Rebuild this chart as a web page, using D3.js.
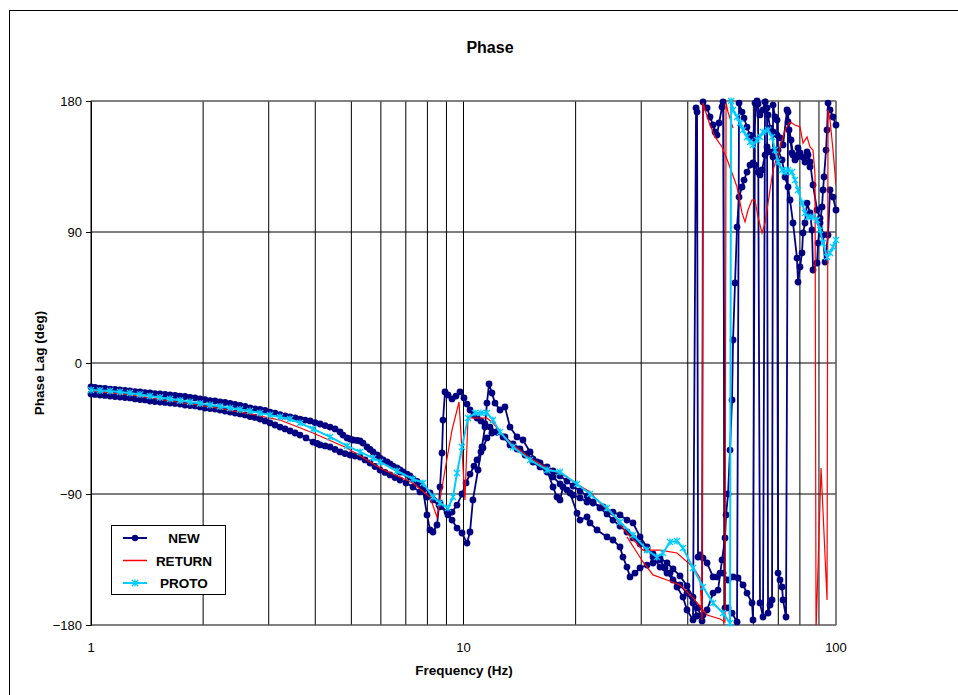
<!DOCTYPE html>
<html>
<head>
<meta charset="utf-8">
<title>Phase</title>
<script src="https://d3js.org/d3.v7.min.js"></script>
<style>
  body { margin: 0; background: #fff; }
  text { font-family: Arial, "Liberation Sans", sans-serif; fill: #000; }
</style>
</head>
<body>
<div id="chart"></div>
<script>

// values: [frequency (Hz), phase lag (deg)]
var newA = [[1.000,-16.5],[1.025,-16.8],[1.057,-17.2],[1.090,-17.5],[1.125,-17.9],[1.160,-18.2],[1.196,-18.5],[1.234,-18.9],
  [1.272,-19.2],[1.313,-19.6],[1.354,-19.9],[1.396,-20.3],[1.440,-20.6],[1.485,-21.0],[1.532,-21.3],[1.580,-21.6],
  [1.630,-22.0],[1.681,-22.3],[1.734,-22.7],[1.788,-23.0],[1.844,-23.7],[1.902,-24.0],[1.962,-24.7],[2.023,-25.1],
  [2.087,-25.8],[2.152,-26.1],[2.220,-26.8],[2.290,-27.1],[2.362,-27.8],[2.436,-28.5],[2.512,-29.2],[2.591,-29.9],
  [2.673,-30.9],[2.756,-31.6],[2.843,-31.9],[2.932,-32.6],[3.024,-33.7],[3.119,-34.4],[3.217,-35.4],[3.318,-36.4],
  [3.422,-37.1],[3.530,-37.8],[3.640,-38.5],[3.755,-39.2],[3.873,-39.8],[3.995,-40.9],[4.120,-41.9],[4.250,-43.0],
  [4.382,-44.0],[4.521,-45.3],[4.662,-47.4],[4.748,-49.5],[4.868,-51.5],[4.959,-52.2],[5.051,-52.9],[5.177,-53.2],
  [5.275,-53.6],[5.373,-55.0],[5.508,-57.7],[5.611,-59.4],[5.716,-61.1],[5.860,-63.2],[5.969,-65.3],[6.081,-66.6],
  [6.233,-68.0],[6.350,-69.4],[6.468,-70.8],[6.630,-72.1],[6.754,-73.5],[6.880,-74.9],[7.052,-76.3],[7.184,-77.6],
  [7.319,-79.7],[7.502,-81.4],[7.642,-83.1],[7.785,-87.3],[7.981,-104.4],
  [8.130,-114.7],[8.282,-116.1],[8.489,-111.3],[8.596,-97.6],[8.649,-85.2],[8.757,-61.8],[8.811,-39.2],[8.920,-19.9],
  [9.087,-22.0],[9.316,-24.7],[9.548,-22.7],[9.786,-19.9],[10.03,-24.0],[10.22,-28.2],[10.41,-32.3],[10.67,-35.7],
  [10.87,-37.8],[11.14,-39.8],[11.42,-41.9],[11.78,-44.0],[12.30,-47.4],[12.92,-50.8],[13.58,-55.6],[14.18,-59.1],
  [14.81,-62.5],[15.37,-66.0],[16.05,-68.7],[16.76,-71.4],[17.39,-74.2],[18.16,-77.6],[18.96,-81.1],[19.68,-84.5],
  [20.55,-87.9],[21.46,-91.4],[22.27,-95.5],[23.25,-99.6],[24.28,-103.7],[25.19,-107.9],[26.31,-112.0],[27.47,-116.1],
  [28.51,-120.2],[29.78,-124.4],[31.10,-127.8],[32.27,-131.2],[33.69,-134.0],[35.18,-137.4],[36.51,-141.5],[38.13,-146.3],
  [39.81,-153.2],[41.32,-160.8],[42.62,-168.3],[43.69,-177.2],[43.96,179.3],[45.06,175.2],[45.90,169.0],[46.77,163.5],
  [47.35,158.7],[47.93,156.6],[48.53,164.9],[49.44,175.9],[49.75,179.3],[50.36,-168.3],[51.31,-168.3],[52.59,-171.8],
  [54.24,-177.9],[54.92,178.6],[55.94,172.4],[56.64,168.3],[57.69,162.1],[58.77,156.6],[59.87,154.6],[61.37,179.3],
  [62.52,170.4],[63.69,173.8],[64.49,179.3],[65.70,170.4],[66.52,161.4],[67.76,158.7],[69.46,156.6],[70.75,154.6],
  [72.08,149.8],[73.88,173.8],[74.34,165.6],[75.73,153.2],[76.67,142.9],[78.58,141.5],[80.06,144.3],[81.56,141.5],
  [83.60,145.0],[85.16,138.1],[86.76,122.3],[88.94,105.1],[90.60,99.6],[92.30,87.9],[93.45,69.4],[95.20,87.9],
  [96.38,118.9],[98.16,114.0],[100,105.1]];

var newB = [[1.000,-21.3],[1.025,-21.6],[1.057,-22.0],[1.090,-22.3],[1.125,-22.7],[1.160,-23.0],[1.196,-23.4],[1.234,-23.7],
  [1.272,-24.0],[1.313,-24.7],[1.354,-25.1],[1.396,-25.4],[1.440,-26.1],[1.485,-26.5],[1.532,-26.8],[1.580,-27.1],
  [1.630,-27.5],[1.681,-27.8],[1.734,-28.2],[1.788,-28.9],[1.844,-29.2],[1.902,-29.5],[1.962,-30.2],[2.023,-30.9],
  [2.087,-31.3],[2.152,-31.6],[2.220,-32.3],[2.290,-33.0],[2.362,-33.7],[2.436,-34.4],[2.512,-35.0],[2.591,-35.7],
  [2.673,-36.8],[2.756,-37.4],[2.843,-38.5],[2.932,-39.8],[3.024,-41.2],[3.119,-42.6],[3.217,-44.0],[3.318,-45.3],
  [3.422,-46.7],[3.530,-48.1],[3.640,-49.5],[3.777,-51.5],[3.945,-54.3],[4.044,-55.3],[4.120,-56.3],[4.250,-57.0],
  [4.382,-57.7],[4.521,-59.4],[4.662,-61.1],[4.807,-62.2],[4.959,-63.2],[5.113,-63.9],[5.275,-64.6],[5.440,-66.6],
  [5.611,-68.7],[5.786,-71.1],[5.969,-73.5],[6.155,-75.2],[6.350,-76.9],[6.548,-78.7],[6.754,-80.4],[7.009,-82.4],
  [7.319,-85.2],[7.642,-88.6],[7.981,-92.1],[8.282,-94.1],[8.649,-98.9],[9.031,-102.4],[9.316,-107.9],[9.607,-113.4],
  [9.908,-116.8],[10.22,-123.7],[10.41,-116.1],[10.60,-94.1],[10.94,-73.5],[11.21,-57.7],[11.42,-44.0],[11.56,-27.5],
  [11.71,-14.4],[11.92,-20.6],[12.15,-27.5],[12.53,-32.3],[12.92,-30.2],[13.33,-44.0],[13.92,-50.8],[14.44,-52.9],
  [15.09,-61.1],[15.75,-68.0],[16.76,-73.5],[17.39,-85.2],[17.82,-92.1],[18.16,-94.1],[18.50,-85.2],[19.32,-89.3],
  [20.17,-103.1],[20.55,-107.9],[21.46,-105.8],[21.86,-109.9],[22.83,-114.7],[24.28,-119.5],[25.19,-121.6],[26.31,-126.4],
  [26.80,-133.3],[27.47,-140.2],[27.99,-147.0],[28.87,-144.3],[29.78,-140.8],[31.10,-138.8],[32.27,-137.4],[33.69,-135.3],
  [34.75,-140.8],[35.84,-144.3],[37.43,-153.9],[38.84,-160.8],[39.81,-169.7],[41.32,-176.5],[42.10,175.2],[42.36,172.4],
  [42.62,-133.3],[43.15,-131.9],[43.96,-134.0],[45.06,-137.4],[46.77,-147.0],[47.93,-147.0],[48.83,-144.3],[49.75,-144.3],
  [51.31,-149.1],[52.92,-147.0],[54.58,-147.7],[56.29,-152.5],[57.69,-158.1],[59.50,-164.9],[59.87,-176.5],[60.61,178.6],
  [61.37,180],[61.75,177.9],[62.52,-164.9],[63.69,-174.5],[64.49,179.3],[65.29,175.2],[65.70,-171.8],[66.52,-166.3],
  [67.34,-162.8],[67.76,177.2],[68.60,169.0],[69.46,166.9],[69.89,-144.3],[70.75,-149.1],[71.63,-153.9],[72.08,-162.8],
  [73.43,-174.5],[74.34,172.4],[74.80,160.1],[76.20,144.3],[77.61,139.5],[79.06,147.7],[81.56,141.5],[82.57,138.1],
  [84.12,142.9],[85.16,134.7]];

var newC = [[6.754,-74.9],[7.184,-78.3],[7.642,-83.8],[8.130,-89.3],[8.649,-96.2],[9.087,-104.4],[9.316,-102.4],[9.607,-97.6],
  [9.908,-90.0],[10.16,-82.4],[10.41,-76.3],[10.67,-70.8],[10.87,-66.6],[11.14,-61.1],[11.28,-58.4],[11.56,-51.5],
  [11.92,-48.1],[12.30,-47.4],[12.77,-50.8],[13.33,-56.3],[13.92,-59.1],[14.63,-63.2],[15.37,-68.0],[16.05,-71.4],
  [16.76,-74.9],[17.39,-78.3],[18.16,-83.1],[18.96,-87.3],[19.68,-90.7],[20.55,-92.7],[21.46,-95.5],[22.27,-96.2],
  [23.69,-98.9],[25.19,-102.4],[26.31,-104.4],[27.47,-107.9],[28.51,-109.9],[29.78,-119.5],[31.10,-126.4],[32.27,-133.3],
  [33.69,-140.2],[35.18,-144.3],[36.51,-149.1],[38.13,-152.5],[39.81,-158.1],[41.32,-164.9],[42.36,-173.8],[43.96,-173.1],
  [45.06,-169.7],[46.77,-158.1],[48.23,-156.0],[49.44,-135.3],[50.36,-120.2],[50.68,-104.4],[51.31,-90.0],[51.94,-59.8],
  [52.59,-25.4],[52.92,15.8],[53.57,55.0],[54.24,93.4],[54.92,114.0],[55.94,120.9],[56.64,125.7],[57.69,131.2],
  [58.77,136.0],[59.87,137.4],[60.61,136.0],[61.75,131.2],[62.52,129.2],[63.30,132.6],[64.49,142.9],[65.29,148.4],
  [66.52,145.0],[67.76,141.5],[69.89,146.3],[71.63,139.5],[72.97,127.8],[74.34,120.9],[75.26,112.0],[76.67,96.2],
  [78.58,72.1],[79.06,55.6],[80.06,66.0],[81.05,75.6],[81.56,89.3],[82.57,96.2],[83.60,109.9],[85.16,103.1],
  [86.22,91.4],[86.76,63.9],[88.94,68.7],[89.49,82.4],[90.60,96.2],[91.73,107.2],[92.30,118.9],[92.87,127.8],
  [94.03,146.3],[94.61,160.1],[95.20,178.6],[96.38,173.8],[98.16,169.0],[100,163.5]];

var returnA = [[1.000,-19.2],[1.272,-22.0],[1.630,-26.1],[2.087,-30.2],[2.673,-35.0],[3.217,-39.2],[3.945,-48.1],[4.868,-58.4],
  [5.969,-72.1],[7.319,-82.4],[8.130,-92.1],[8.489,-105.8],[8.920,-73.5],[9.316,-46.0],[9.726,-26.8],[9.908,-59.8],
  [10.09,-94.1],[10.28,-37.8],[10.74,-37.8],[11.56,-37.8],[12.00,-41.2],[12.53,-47.4],[13.58,-56.3],[15.09,-65.3],
  [16.76,-72.1],[18.50,-76.9],[20.17,-83.1],[21.86,-88.6],[23.25,-96.2],[25.19,-104.4],[27.47,-116.8],[30.33,-128.5],
  [33.69,-128.5],[37.43,-130.5],[41.32,-140.2],[43.15,-147.7],[43.69,-176.5],[43.96,178.6],[44.51,173.8],[45.90,163.5],
  [47.35,155.3],[49.44,148.4],[51.31,138.1],[54.24,120.9],[55.94,103.1],[56.99,96.9],[58.05,105.1],[59.50,112.0],
  [60.61,112.0],[61.75,100.3],[63.30,89.3],[64.49,96.2],[65.70,109.9],[67.76,132.6],[70.75,148.4],[72.97,160.1],
  [75.26,165.6],[77.61,163.5],[80.06,162.1],[81.56,151.1],[83.60,155.3],[85.16,148.4],[86.76,146.3],[87.84,129.2],
  [88.39,-185],[91.17,-72.1],[94.61,-162.8],[95.20,173.8],[96.38,166.9],[98.16,146.3],[100,122.3]];

var returnB = [[27.47,-119.5],[30.33,-136.7],[32.27,-145.6],[35.18,-149.1],[38.13,-152.5],[41.32,-161.4],[45.06,-173.1],
  [48.83,-175.9],[50.36,-177.9],[50.68,178.6],[51.31,172.4],[52.92,161.4]];

var proto = [[1.000,-18.5],[1.057,-18.9],[1.125,-19.2],[1.196,-19.9],[1.272,-20.6],[1.354,-21.6],[1.440,-22.7],[1.532,-23.7],
  [1.630,-24.7],[1.734,-25.8],[1.844,-26.8],[1.962,-27.8],[2.087,-28.9],[2.220,-29.9],[2.362,-30.9],[2.512,-31.9],
  [2.673,-33.0],[2.843,-34.4],[3.024,-35.7],[3.217,-37.1],[3.422,-38.5],[3.640,-41.2],[3.945,-45.3],[4.382,-50.8],
  [4.868,-57.0],[5.275,-61.1],[5.716,-65.3],[5.969,-68.0],[6.630,-74.2],[7.319,-79.7],[7.785,-82.4],[8.282,-92.1],
  [8.649,-96.2],[9.087,-99.6],[9.373,-92.1],[9.607,-75.6],[9.908,-57.7],[10.28,-37.8],[10.74,-34.4],[11.14,-34.4],
  [11.56,-34.4],[12.00,-39.2],[12.53,-47.4],[13.58,-57.7],[15.09,-66.6],[16.76,-73.5],[18.16,-74.9],[20.17,-83.1],
  [21.86,-90.0],[24.28,-99.6],[26.31,-109.2],[28.51,-118.2],[31.10,-128.5],[33.07,-133.3],[34.32,-130.5],[35.84,-123.0],
  [37.43,-122.3],[38.84,-127.1],[41.32,-140.8],[43.96,-153.9],[46.77,-164.9],[49.75,-171.8],[51.94,-178.6],[52.27,180],
  [52.92,173.8],[54.24,169.0],[55.26,164.9],[56.29,160.1],[57.69,155.3],[58.77,151.8],[59.87,149.8],[61.37,153.2],
  [62.52,155.3],[63.69,158.7],[65.70,160.1],[67.34,155.3],[68.60,146.3],[69.89,138.1],[71.63,132.6],[72.97,131.2],
  [74.34,132.6],[76.20,131.2],[77.61,125.7],[79.06,118.9],[81.05,109.9],[82.57,103.1],[84.12,100.3],[86.76,100.3],
  [88.94,98.2],[90.60,91.4],[92.30,82.4],[94.61,72.8],[96.38,75.6],[98.16,79.7],[100,84.5]];

var xTickLabels = [1, 10, 100];
var yTickLabels = [-180, -90, 0, 90, 180];
var xGrid = [1, 2, 3, 4, 5, 6, 7, 8, 9, 10, 20, 30, 40, 50, 60, 70, 80, 90, 100];

var navy = "#000080", red = "#ff0000", cyan = "#00ccff";

var svg = d3.select("#chart")
  .append("svg")
    .attr("width", 958)
    .attr("height", 695);

// chart frame (runs off the right and bottom of the picture)
svg.append("rect")
  .attr("x", 9.5).attr("y", 10.5)
  .attr("width", 980).attr("height", 720)
  .attr("fill", "#fff")
  .attr("stroke", "#000");

var x = d3.scaleLog().domain([1, 100]).range([91, 836]);
var y = d3.scaleLinear().domain([-180, 180]).range([625, 101]);

svg.append("clipPath").attr("id", "plotclip")
  .append("rect")
    .attr("x", 91).attr("y", 101)
    .attr("width", 745).attr("height", 524);

// gridlines
svg.append("g").selectAll("line")
  .data(xGrid)
  .enter().append("line")
    .attr("x1", function(d) { return x(d); })
    .attr("x2", function(d) { return x(d); })
    .attr("y1", 101).attr("y2", 625)
    .attr("stroke", "#000").attr("stroke-width", 1);

svg.append("g").selectAll("line")
  .data(yTickLabels)
  .enter().append("line")
    .attr("x1", 91).attr("x2", 836)
    .attr("y1", function(d) { return y(d); })
    .attr("y2", function(d) { return y(d); })
    .attr("stroke", "#000").attr("stroke-width", 1);

// plot border
svg.append("rect")
  .attr("x", 91).attr("y", 101)
  .attr("width", 745).attr("height", 524)
  .attr("fill", "none")
  .attr("stroke", "#808080");

// y axis
svg.append("g")
  .attr("transform", "translate(91,0)")
  .call(d3.axisLeft(y).tickValues(yTickLabels).tickSize(5).tickPadding(4))
  .call(function(g) {
    g.select(".domain").attr("stroke", "#000");
    g.selectAll("text").style("font-size", "13px").attr("font-family", "Arial, 'Liberation Sans', sans-serif");
  });

// x tick labels
svg.append("g").selectAll("text")
  .data(xTickLabels)
  .enter().append("text")
    .attr("x", function(d) { return x(d); })
    .attr("y", 652)
    .attr("text-anchor", "middle")
    .style("font-size", "13px")
    .text(function(d) { return d; });

// titles
svg.append("text").attr("x", 490).attr("y", 53).attr("text-anchor", "middle")
  .style("font-size", "16px").style("font-weight", "bold").text("Phase");
svg.append("text").attr("x", 464).attr("y", 675).attr("text-anchor", "middle")
  .style("font-size", "13.5px").style("font-weight", "bold").text("Frequency (Hz)");
svg.append("text").attr("transform", "translate(44,363) rotate(-90)").attr("text-anchor", "middle")
  .style("font-size", "13.5px").style("font-weight", "bold").text("Phase Lag (deg)");

var line = d3.line()
  .x(function(d) { return x(d[0]); })
  .y(function(d) { return y(d[1]); });

var plot = svg.append("g");

// NEW sweeps
[newA, newB, newC].forEach(function(s) {
  plot.append("path")
    .datum(s)
    .attr("clip-path", "url(#plotclip)")
    .attr("fill", "none")
    .attr("stroke", navy)
    .attr("stroke-width", 1.8)
    .attr("d", line);
  plot.append("g").selectAll("circle")
    .data(s)
    .enter().append("circle")
      .attr("cx", function(d) { return x(d[0]); })
      .attr("cy", function(d) { return y(d[1]); })
      .attr("r", 3.4)
      .attr("fill", navy);
});

// RETURN
[returnA, returnB].forEach(function(s) {
  plot.append("path")
    .datum(s)
    .attr("clip-path", "url(#plotclip)")
    .attr("fill", "none")
    .attr("stroke", red)
    .attr("stroke-width", 1.2)
    .attr("d", line);
});

// PROTO
var star = "M-3,-3L3,3M-3,3L3,-3M0,-3.5L0,3.5";
plot.append("path")
  .datum(proto)
  .attr("clip-path", "url(#plotclip)")
  .attr("fill", "none")
  .attr("stroke", cyan)
  .attr("stroke-width", 2)
  .attr("d", line);
plot.append("g").selectAll("path")
  .data(proto)
  .enter().append("path")
    .attr("transform", function(d) { return "translate(" + x(d[0]) + "," + y(d[1]) + ")"; })
    .attr("d", star)
    .attr("stroke", cyan)
    .attr("stroke-width", 1.3)
    .attr("fill", "none");

// legend
var legend = svg.append("g").attr("transform", "translate(111,525)");
legend.append("rect").attr("x", 0.5).attr("y", 0.5).attr("width", 114).attr("height", 69)
  .attr("fill", "#fff").attr("stroke", "#000");
var items = [["NEW", navy], ["RETURN", red], ["PROTO", cyan]];
items.forEach(function(it, i) {
  var ly = 13 + i * 22.5;
  legend.append("line").attr("x1", 12).attr("x2", 36).attr("y1", ly).attr("y2", ly)
    .attr("stroke", it[1]).attr("stroke-width", it[0] == "RETURN" ? 1.5 : 2);
  if (it[0] == "NEW") {
    legend.append("circle").attr("cx", 24).attr("cy", ly).attr("r", 3.2).attr("fill", navy);
  }
  if (it[0] == "PROTO") {
    legend.append("path").attr("transform", "translate(24," + ly + ")").attr("d", star)
      .attr("stroke", cyan).attr("stroke-width", 1.3).attr("fill", "none");
  }
  legend.append("text").attr("x", 73).attr("y", ly + 5).attr("text-anchor", "middle")
    .style("font-size", "13.5px").style("font-weight", "bold").text(it[0]);
});

</script>
</body>
</html>
